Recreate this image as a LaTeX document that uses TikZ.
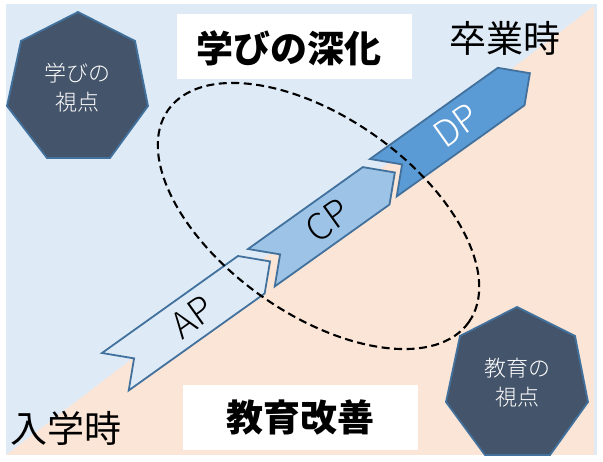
\documentclass[tikz,border=0pt]{standalone}
\usepackage{fontspec}
\IfFontExistsTF{Noto Sans CJK JP Black}{\newfontfamily\jpbold{Noto Sans CJK JP Black}}{%
  \IfFontExistsTF{Noto Sans CJK JP Bold}{\newfontfamily\jpbold{Noto Sans CJK JP Bold}}{\newfontfamily\jpbold{Noto Sans CJK JP}[FakeBold=3]}}
\IfFontExistsTF{Noto Sans CJK JP Light}{\newfontfamily\jplight{Noto Sans CJK JP Light}}{\newfontfamily\jplight{Noto Sans CJK JP}}
\newfontfamily\jpreg{Noto Sans CJK JP}
\definecolor{bgblue}{HTML}{DEEBF7}
\definecolor{peach}{HTML}{FBE5D6}
\definecolor{heptfill}{HTML}{44546A}
\definecolor{edgeblue}{HTML}{41719C}
\definecolor{cpfill}{HTML}{9DC3E6}
\definecolor{dpfill}{HTML}{5B9BD5}
\tikzset{
  chev/.style={draw=edgeblue, line width=1.8pt, line join=miter},
  chevlabel/.style={font=\jplight\fontsize{36}{36}\selectfont, inner sep=0pt},
  hept/.style={fill=heptfill, draw=edgeblue, line width=1.8pt, line join=miter},
  heptlabel/.style={text=white, font=\jplight\fontsize{22}{29}\selectfont, align=center, inner sep=0pt},
  titlebox/.style={fill=white, inner sep=0pt, minimum width=235pt, minimum height=65pt},
  titletext/.style={font=\jpbold\fontsize{37}{37}\selectfont, inner sep=0pt},
  timetext/.style={font=\jpreg\fontsize{37}{37}\selectfont, inner sep=0pt},
  ell/.style={draw=black, line width=2.1pt, dash pattern=on 8pt off 4.5pt}
}
\newcommand\mychev[7]{%
  \begin{scope}[shift={(#1,#2)}, rotate=35.5]
    \draw[chev, fill=#4] (0,0) -- (#3,0) -- ({#3+23},23) -- (#3,46) -- (0,46) -- (23,23) -- cycle;
    \node[chevlabel, text=#5, rotate=35.5] (#6) at ({#3/2+11},23) {#7};
  \end{scope}}
\begin{document}
\begin{tikzpicture}[x=1pt,y=-1pt]
\useasboundingbox (0,0) rectangle (603,462);
\fill[white] (0,0) rectangle (603,462);
\fill[bgblue] (6,4) rectangle (597,455);
\fill[peach] (6,455) -- (594,455) -- (594,6) -- cycle;

% title boxes
\node[titlebox] (tb1) at (294.5,46.5) {};
\node[titletext] (t1) at (289,48) {学びの深化};
\node[titlebox, font=\jpbold\fontsize{37}{37}\selectfont] (t2) at (300.5,417.5) {教育改善};

% time labels
\node[timetext] (grad) at (505,38) {卒業時};
\node[timetext] (entry) at (66,428) {入学時};

% heptagons
\draw[hept] (78,12) -- (135,41) -- (148,106) -- (110,158) -- (47,158) -- (7,106) -- (21,41) -- cycle;
\node[heptlabel] (vlearn) at (78,88) {学びの\\視点};
\draw[hept] (517,307) -- (575,336) -- (588,402) -- (550,455) -- (485,455) -- (446,402) -- (460,336) -- cycle;
\node[heptlabel] (vedu) at (517,383) {教育の\\視点};

% chevrons
\mychev{102}{353}{167}{bgblue}{black}{ap}{AP}
\mychev{248}{249}{141}{cpfill}{black}{cp}{CP}
\mychev{370}{159}{157}{dpfill}{white}{dp}{DP}

% dashed ellipse
\draw[ell, rotate around={-35.2:(318.5,216)}] (318.5,216) ellipse (184 and 98.3);
\end{tikzpicture}
\end{document}
